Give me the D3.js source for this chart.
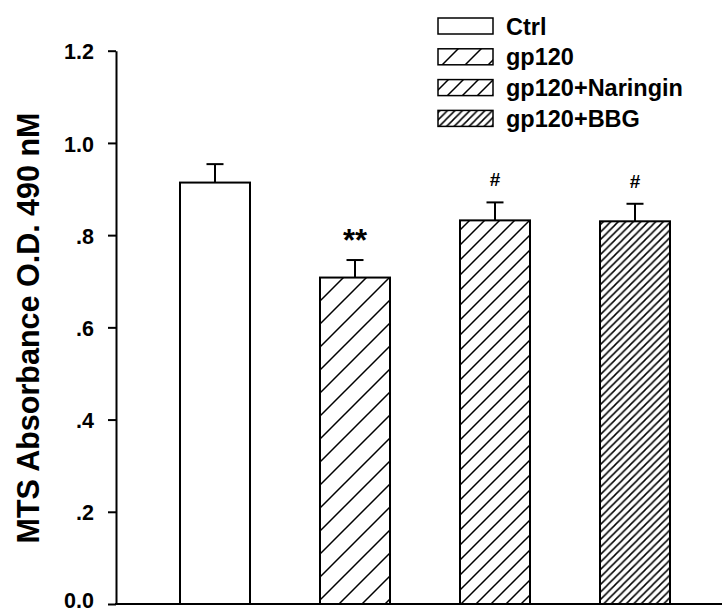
<!DOCTYPE html>
<html>
<head>
<meta charset="utf-8">
<script src="https://cdn.jsdelivr.net/npm/d3@7/dist/d3.min.js"></script>
<style>
  html, body { margin: 0; padding: 0; background: #fff; }
  svg { display: block; font-family: "Liberation Sans", Arial, sans-serif; font-weight: bold; }
</style>
</head>
<body>
<svg id="chart"></svg>
<script>
/* MTS absorbance bar chart with hatched fills (d3 v7). */
var groups = ["Ctrl", "gp120", "gp120+Naringin", "gp120+BBG"];
var means = [0.914, 0.708, 0.832, 0.830];
var errors = [0.040, 0.038, 0.039, 0.038];
var marks = ["", "**", "#", "#"];
var tickValues = [0, 0.2, 0.4, 0.6, 0.8, 1.0, 1.2];
var tickLabels = ["0.0", ".2", ".4", ".6", ".8", "1.0", "1.2"];
var yTitle = "MTS Absorbance O.D. 490 nM";

(function () {
  var W = 722, H = 613;
  var svg = d3.select("#chart").attr("width", W).attr("height", H);

  var x = d3.scaleBand().domain(groups).range([110, 740]).paddingInner(0.5).paddingOuter(0.5);
  var y = d3.scaleLinear().domain([0, 1.2]).range([604, 50.7]);

  // hatch patterns: spacing per group (none for Ctrl)
  var hatch = [0, 23, 15, 7.5];
  var defs = svg.append("defs");
  hatch.forEach(function (p, i) {
    if (!p) return;
    var pat = defs.append("pattern")
      .attr("id", "hatch" + i)
      .attr("patternUnits", "userSpaceOnUse")
      .attr("width", p).attr("height", p);
    pat.append("rect").attr("width", p).attr("height", p).attr("fill", "#fff");
    pat.append("path")
      .attr("d", "M" + (-p / 2) + "," + (p / 2) + "L" + (p / 2) + "," + (-p / 2) +
        "M0," + p + "L" + p + ",0" +
        "M" + (p / 2) + "," + (p * 1.5) + "L" + (p * 1.5) + "," + (p / 2))
      .attr("stroke", "#000").attr("stroke-width", 1.5).attr("fill", "none");
  });
  function fillFor(i) { return hatch[i] ? "url(#hatch" + i + ")" : "#fff"; }

  // bars
  svg.append("g").selectAll("rect")
    .data(groups)
    .join("rect")
    .attr("x", function (d) { return x(d); })
    .attr("y", function (d, i) { return y(means[i]); })
    .attr("width", x.bandwidth())
    .attr("height", function (d, i) { return y(0) - y(means[i]); })
    .attr("fill", function (d, i) { return fillFor(i); })
    .attr("stroke", "#000")
    .attr("stroke-width", 2);

  // error bars (upper only)
  var eb = svg.append("g").attr("stroke", "#000").attr("stroke-width", 2);
  groups.forEach(function (g, i) {
    var cx = x(g) + x.bandwidth() / 2;
    eb.append("line").attr("x1", cx).attr("x2", cx)
      .attr("y1", y(means[i])).attr("y2", y(means[i] + errors[i]));
    eb.append("line").attr("x1", cx - 8.5).attr("x2", cx + 8.5)
      .attr("y1", y(means[i] + errors[i])).attr("y2", y(means[i] + errors[i]));
  });

  // significance marks
  svg.append("g").selectAll("text")
    .data(groups)
    .join("text")
    .attr("x", function (d) { return x(d) + x.bandwidth() / 2; })
    .attr("y", function (d, i) {
      return marks[i] === "**" ? y(means[i] + errors[i]) - 9 : y(means[i] + errors[i]) - 16;
    })
    .attr("text-anchor", "middle")
    .style("font-size", function (d, i) { return marks[i] === "**" ? "31px" : "19px"; })
    .text(function (d, i) { return marks[i]; });

  // y axis
  var yAxis = d3.axisLeft(y)
    .tickValues(tickValues)
    .tickFormat(function (d, i) { return tickLabels[i]; })
    .tickSize(8)
    .tickSizeOuter(0)
    .tickPadding(14);
  var ay = svg.append("g").attr("transform", "translate(116,0)").call(yAxis);
  ay.select(".domain").attr("stroke-width", 2);
  ay.selectAll(".tick line").attr("stroke-width", 2);
  ay.selectAll(".tick text")
    .attr("dy", function (d) { return d === 0 ? "0.18em" : "0.38em"; })
    .style("font-size", "21.5px")
    .style("font-family", "'Liberation Sans', Arial, sans-serif")
    .style("font-weight", "bold")
    .attr("fill", "#000");

  // x axis baseline
  svg.append("line")
    .attr("x1", 115).attr("x2", W)
    .attr("y1", y(0)).attr("y2", y(0))
    .attr("stroke", "#000").attr("stroke-width", 2);

  // y title
  svg.append("text")
    .attr("transform", "translate(39,328) rotate(-90)")
    .attr("text-anchor", "middle")
    .style("font-size", "30.5px")
    .text(yTitle);

  // legend
  var lg = svg.append("g").attr("transform", "translate(438,0)");
  groups.forEach(function (g, i) {
    var cy = 26 + i * 30.8;
    lg.append("rect")
      .attr("x", 0).attr("y", cy - 8)
      .attr("width", 55).attr("height", 16)
      .attr("fill", fillFor(i))
      .attr("stroke", "#000").attr("stroke-width", 1.5);
    lg.append("text")
      .attr("x", 68).attr("y", cy + 8.5)
      .style("font-size", "23.5px")
      .text(g);
  });
})();
</script>
</body>
</html>
